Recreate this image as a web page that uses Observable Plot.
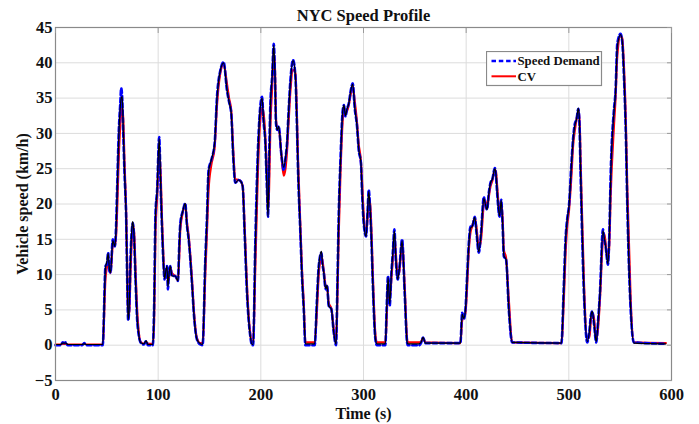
<!DOCTYPE html>
<html>
<head>
<meta charset="utf-8">
<script src="https://cdn.jsdelivr.net/npm/d3@7"></script>
<script src="https://cdn.jsdelivr.net/npm/@observablehq/plot@0.6"></script>
<style>
  html, body { margin: 0; padding: 0; background: #fff; }
  #wrap { position: relative; width: 699px; height: 424px; overflow: hidden; }
  #legend { position: absolute; left: 486px; top: 51px; }
</style>
</head>
<body>
<div id="wrap"></div>
<script>
// ---- data ----
const chartTitle = "NYC Speed Profile";
const xLabel = "Time (s)";
const yLabel = "Vehicle speed (km/h)";
const seriesNames = ["Speed Demand", "CV"];
const xTicks = [0, 100, 200, 300, 400, 500, 600];
const yTicks = [-5, 0, 5, 10, 15, 20, 25, 30, 35, 40, 45];

const time = [
  0, 5, 7, 9, 10, 12, 26, 28, 30, 46,
  48.7, 50, 51.3, 52.5, 53.6, 55.8, 57.8, 59, 60, 61.7,
  63, 64, 65, 66, 67.2, 68.8, 70, 70.8, 72, 73,
  74.5, 75.3, 76.6, 78, 79.5, 81, 82.8, 86, 88.3, 90,
  94.8, 96, 97.4, 99, 101, 102.5, 103.7, 105, 106.3, 107.5,
  108.6, 109.5, 110.5, 111.8, 113.4, 116.7, 119.3, 120.5, 121.6, 124,
  126.4, 128, 129.7, 132.9, 135, 137.8, 141, 143.3, 145.9, 147.5,
  149.1, 151.7, 155, 157.3, 160.5, 163.8, 167, 169, 171.2, 173,
  175.1, 178.4, 180.5, 182.3, 184.2, 186.5, 189.7, 191.5, 192.5, 194.6,
  197, 199, 201.2, 202.5, 204.4, 206, 207, 208, 209.3, 211,
  212.6, 213.8, 214.8, 216, 217.4, 220, 222.3, 224, 225.5, 227,
  228.8, 231.4, 233.7, 235, 236.3, 238.5, 240, 241.8, 243.4, 252.5,
  254.5, 256.4, 259, 260, 261.3, 262.5, 263.5, 264.5, 266.1, 268.7,
  271, 273.3, 274.5, 275.9, 277.5, 279.8, 281, 282.4, 284, 285.6,
  287.5, 289.5, 291.5, 293.7, 295.3, 297.5, 298.5, 300.2, 302.5, 304,
  305.1, 306.5, 307.7, 309, 311.6, 313, 321.3, 322.5, 323.9, 325.5,
  327.2, 328.5, 330.1, 331.5, 333.3, 335, 337.6, 340.1, 342.4, 343,
  354, 356, 358, 360.3, 394.4, 396.1, 397.7, 399.3, 401, 402.6,
  404.2, 405.8, 408.4, 410, 412.3, 414.5, 417.2, 418.5, 420.4, 422,
  423.7, 425.5, 427.9, 429, 430.2, 432.5, 434.1, 435.5, 436.7, 438.9,
  441.5, 444.8, 492.8, 495, 496.8, 498.5, 500.1, 502.7, 504, 505.9,
  507.5, 509.2, 510.2, 511.5, 514.7, 517.9, 520, 521.5, 522.8, 524.5,
  526.7, 528.5, 530.3, 533.2, 534.5, 535.8, 538.1, 539.5, 540.7, 543.9,
  545.5, 547.2, 550.4, 552, 553.7, 555.5, 556.9, 560.2, 563.4, 594.5
];

const speedDemand = [
  0, 0, 0.4, 0.3, 0.4, 0, 0, 0.3, 0, 0,
  11.2, 11.5, 13.1, 10.5, 10.3, 15, 14, 16.8, 22, 30.5,
  34, 36.4, 35, 30, 24.4, 18.2, 8, 3.5, 6, 12.1,
  16.5, 17.3, 15, 9, 3.7, 1.5, 0.4, 0.1, 0.6, 0,
  0, 5, 18.7, 22, 29.5, 22, 16.8, 12, 9.3, 10.5,
  11.2, 7.9, 10, 11.2, 9.8, 9.8, 9.1, 14, 17.3, 19,
  20.1, 17, 15, 8.8, 4, 0.8, 0.1, 0, 12.1, 18,
  24.8, 26.2, 28.6, 35.2, 38.9, 40.1, 36.1, 34.5, 32.8, 27,
  23, 23.4, 23.2, 22.5, 15.9, 7.4, 1.3, 0, 0, 14.5,
  27, 33, 35.2, 32, 28.6, 22, 18.2, 26, 34.2, 38,
  42.7, 38, 31.4, 30.5, 31, 27, 24.8, 26.5, 28.6, 33,
  37.5, 40.4, 38, 32, 24.4, 15.9, 10, 5.1, 0, 0,
  6, 11.2, 13.1, 11.5, 10.3, 8.5, 7.9, 8.5, 5.6, 5.1,
  1.8, 0, 8, 18.7, 26, 33.3, 34, 32.4, 33.5, 34.2,
  36, 37.1, 33.5, 31, 27.7, 25.8, 22, 17.3, 15.4, 19,
  22, 19, 15, 9, 0.8, 0, 0, 5, 9.8, 5.6,
  10.3, 13, 16.4, 12, 9.3, 11, 15, 7.4, 0.4, 0,
  0, 0.3, 1.1, 0.3, 0.3, 4.6, 3.7, 5.1, 10, 14.5,
  16.8, 16.8, 18.2, 16, 13.1, 16, 21, 20, 19.2, 21.5,
  23, 23.5, 25.1, 24, 21.5, 18.2, 20.6, 17, 12.6, 12.1,
  5.1, 0.4, 0.3, 8, 15, 18, 19.7, 26.2, 29, 31.4,
  32, 33.5, 32, 23.9, 7.4, 0.4, 2, 4.2, 4.8, 3,
  0.4, 3.5, 7.4, 16.4, 15, 14, 11.4, 16, 23.9, 33.3,
  36, 42.7, 44.1, 43, 38, 30, 20.1, 5.1, 0.4, 0.2
];

const cvSpeed = [
  0.1, 0.1, 0.2, 0.2, 0.2, 0.1, 0.1, 0.2, 0.1, 0.1,
  9.5, 11, 12, 11, 10.2, 14, 14.2, 15.5, 19, 27,
  31, 33, 33.5, 32, 26, 19, 10, 4, 5, 10,
  15.5, 17, 16, 10.5, 5, 2, 0.5, 0.2, 0.5, 0.2,
  0.2, 3, 16, 21, 27.5, 24, 18, 13, 9.5, 10,
  11, 9, 9.5, 11, 10.2, 9.8, 9.2, 12.5, 16.5, 18.8,
  20, 17.5, 15.5, 9.5, 4.5, 1, 0.3, 0.3, 10, 16,
  22, 25.5, 28, 34, 38.5, 39.8, 37, 35, 33.2, 28,
  23.5, 23.4, 23.2, 22.6, 17, 8.5, 1.6, 0.3, 0.3, 11,
  24, 31, 33.5, 33, 29.5, 24, 19, 22, 31, 36.5,
  41.5, 39, 32, 30.8, 30.8, 27, 24, 25, 27.5, 31.5,
  36, 39, 38.5, 33.5, 26, 17, 11, 6, 0.4, 0.4,
  4.5, 10, 12.5, 12, 10.5, 9, 8, 8.3, 6, 5.2,
  2.3, 0.3, 6, 16, 24, 32, 33.5, 32.8, 33.2, 34,
  35.5, 36.8, 34.5, 31.5, 28.5, 26, 23.5, 18.5, 15.8, 18,
  21, 20, 16.5, 10.5, 1.5, 0.4, 0.4, 3.5, 8.5, 6.5,
  9.5, 12, 15.5, 13, 9.8, 10.5, 14.5, 8.5, 1, 0.4,
  0.4, 0.5, 1, 0.4, 0.3, 3.5, 4, 4.6, 8.5, 13.5,
  16, 16.8, 18, 16.8, 13.8, 15, 20, 20.5, 19.5, 21,
  22.5, 23.3, 24.8, 24.6, 22.5, 19, 20, 18, 13.5, 12.3,
  6.5, 0.4, 0.3, 6, 13, 17, 19, 24.5, 28, 30.5,
  32, 33, 33, 26, 9, 1, 1.2, 3.5, 4.6, 3.8,
  0.8, 2.5, 6.5, 15, 15.8, 14.5, 12, 14.5, 21, 31,
  35, 41, 43.8, 43.5, 39.5, 32, 22.5, 6.5, 0.4, 0.3
];

const blackTrace = [
  0.1, 0.1, 0.3, 0.3, 0.3, 0.1, 0.1, 0.2, 0.1, 0.1,
  11, 11.8, 13, 10.8, 10.3, 14.8, 14, 16.5, 21.5, 30,
  33.5, 35, 35.2, 30.5, 24.6, 18, 8, 3.6, 6.2, 12,
  16.8, 17.5, 15.2, 9, 3.8, 1.6, 0.4, 0.2, 0.6, 0.1,
  0.1, 4.5, 18.5, 22, 29.3, 22.5, 17, 12, 9.4, 10.6,
  11.2, 8.3, 10, 11.2, 9.8, 9.8, 9.1, 13.8, 17.2, 19,
  20.1, 17, 15, 8.8, 4, 0.8, 0.2, 0.1, 12, 17.8,
  24.6, 26.2, 28.6, 35, 38.9, 40, 36.2, 34.5, 32.8, 27,
  23, 23.4, 23.2, 22.5, 16, 7.5, 1.3, 0.1, 0.1, 14,
  26.5, 32.8, 35, 32.2, 28.6, 22, 18.2, 25, 33.8, 38,
  42.5, 38.2, 31.5, 30.5, 31, 27, 25.2, 26.5, 28.6, 33,
  37.3, 40.3, 38, 32, 24.5, 16, 10, 5.2, 0.2, 0.2,
  5.8, 11.2, 13.3, 11.6, 10.3, 8.5, 8, 8.5, 5.6, 5.1,
  1.8, 0.1, 7.8, 18.5, 25.8, 33.2, 34, 32.5, 33.5, 34.2,
  36, 37, 33.6, 31, 27.8, 25.8, 22.2, 17.4, 15.4, 19,
  21.8, 19.2, 15, 9, 0.9, 0.2, 0.2, 4.8, 9.6, 5.8,
  10.3, 13, 16.2, 12.2, 9.3, 11, 14.8, 7.5, 0.5, 0.2,
  0.2, 0.4, 1.1, 0.3, 0.3, 4.4, 3.8, 5, 9.8, 14.3,
  16.6, 16.8, 18.1, 16.1, 13.2, 15.8, 20.8, 20.1, 19.2, 21.4,
  23, 23.5, 25, 24.2, 21.7, 18.3, 20.5, 17.2, 12.7, 12.1,
  5.2, 0.4, 0.3, 7.6, 14.8, 17.9, 19.6, 26, 28.8, 31.2,
  32, 33.6, 32.2, 24, 7.5, 0.5, 1.9, 4.1, 4.8, 3.1,
  0.5, 3.4, 7.3, 16.2, 15.2, 14, 11.5, 15.8, 23.5, 33,
  35.8, 42.3, 44, 43.1, 38.2, 30.2, 20.3, 5.2, 0.3, 0.2
];

// ---- build tables ----
const demandRows = time.map((t, i) => ({t, v: speedDemand[i]}));
const cvRows = time.map((t, i) => ({t, v: cvSpeed[i]}));
const blackRows = time.map((t, i) => ({t, v: blackTrace[i]}));

const FONT = "'Liberation Serif', 'Times New Roman', Times, serif";
const BLUE = "#0000ff", RED = "#ff0000";

const chart = Plot.plot({
  width: 699,
  height: 424,
  marginLeft: 55,
  marginRight: 28,
  marginTop: 27,
  marginBottom: 44,
  style: {fontFamily: FONT, fontWeight: "bold", fontSize: "16px", color: "#111", background: "#fff", overflow: "visible"},
  x: {domain: [0, 600], label: null},
  y: {domain: [-5, 45], label: null},
  marks: [
    Plot.gridX(xTicks, {stroke: "#dcdcdc", strokeOpacity: 1}),
    Plot.gridY(yTicks, {stroke: "#dcdcdc", strokeOpacity: 1}),
    Plot.line(cvRows, {x: "t", y: "v", stroke: RED, strokeWidth: 2.2, curve: "monotone-x"}),
    Plot.line(demandRows, {x: "t", y: "v", stroke: BLUE, strokeWidth: 2.6, strokeDasharray: "4.5,2.8", curve: "monotone-x"}),
    Plot.line(blackRows, {x: "t", y: "v", stroke: "#000", strokeWidth: 1.2, curve: "monotone-x"}),
    Plot.frame({stroke: "#8a8a8a", strokeWidth: 1.2}),
    Plot.axisX(xTicks, {anchor: "bottom", tickSize: 0, tickPadding: 8, label: null, fontSize: 16.5, fill: "#111"}),
    Plot.axisY(yTicks, {anchor: "left", tickSize: 0, tickPadding: 3, label: null, fontSize: 16.5, fill: "#111"}),
    Plot.axisX(xTicks, {anchor: "top", tickSize: -5, stroke: "#9a9a9a", tickFormat: () => "", label: null}),
    Plot.axisY(yTicks, {anchor: "right", tickSize: -5, stroke: "#9a9a9a", tickFormat: () => "", label: null}),
    Plot.text([chartTitle], {frameAnchor: "top", textAnchor: "middle", lineAnchor: "middle", dy: -12, fontSize: 16.5, fontWeight: "bold", fill: "#111"}),
    Plot.text([xLabel], {frameAnchor: "bottom", textAnchor: "middle", lineAnchor: "middle", dy: 33.5, fontSize: 16, fontWeight: "bold", fill: "#111"}),
    Plot.text([yLabel], {frameAnchor: "left", textAnchor: "middle", lineAnchor: "middle", dx: -33, rotate: -90, fontSize: 16, fontWeight: "bold", fill: "#111"})
  ]
});

const wrap = document.getElementById("wrap");
wrap.appendChild(chart);

// ---- legend (overlay) ----
const styles = [
  {stroke: BLUE, width: 2.6, dash: "4.5,2.8"},
  {stroke: RED, width: 2, dash: null}
];
const lg = d3.select(wrap).append("svg")
  .attr("id", "legend")
  .attr("width", 117).attr("height", 36);
lg.append("rect").attr("x", 0.5).attr("y", 0.5).attr("width", 115).attr("height", 34)
  .attr("fill", "#fff").attr("stroke", "#8a8a8a").attr("stroke-width", 1.2);
seriesNames.forEach((name, i) => {
  const cy = 10 + i * 15.3;
  lg.append("line").attr("x1", 5.5).attr("x2", 30).attr("y1", cy).attr("y2", cy)
    .attr("stroke", styles[i].stroke).attr("stroke-width", styles[i].width)
    .attr("stroke-dasharray", styles[i].dash);
  lg.append("text").attr("x", 31.5).attr("y", cy).attr("dy", "0.33em")
    .attr("font-family", FONT).attr("font-weight", "bold").attr("font-size", 12.8)
    .attr("fill", "#111").text(name);
});
</script>
</body>
</html>
